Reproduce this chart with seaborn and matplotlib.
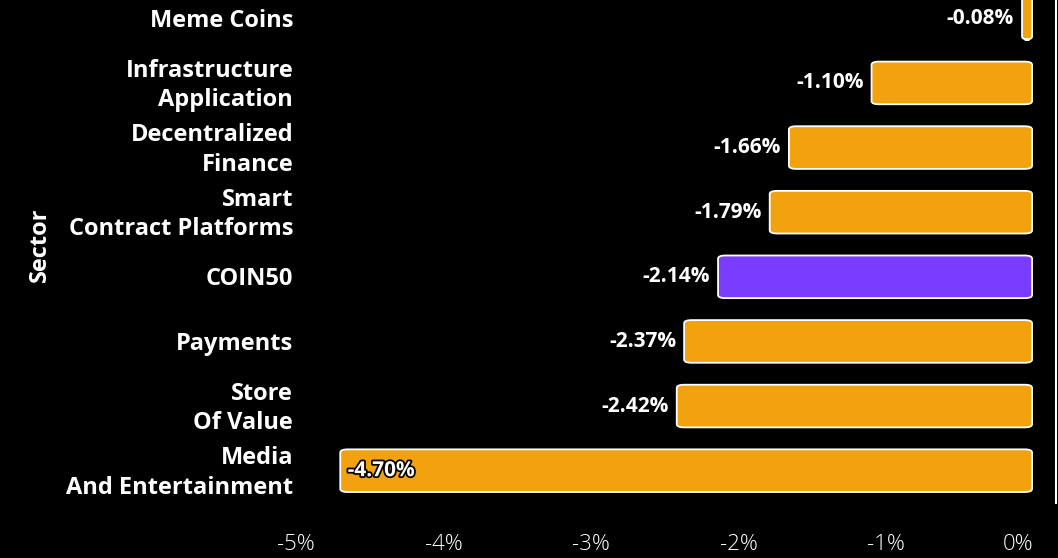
import numpy as np
import pandas as pd
import matplotlib.pyplot as plt
import matplotlib.patheffects as pe
import matplotlib.transforms as mtrans
from matplotlib.patches import FancyBboxPatch
import seaborn as sns

sectors = ['Meme Coins', 'Infrastructure\nApplication', 'Decentralized\nFinance',
           'Smart\nContract Platforms', 'COIN50', 'Payments', 'Store\nOf Value',
           'Media\nAnd Entertainment']
changes = [-0.08, -1.10, -1.66, -1.79, -2.14, -2.37, -2.42, -4.70]
highlight = 'COIN50'
x_ticks = [-5, -4, -3, -2, -1, 0]

orange = '#F2A20E'
purple = '#7A3CFF'

df = pd.DataFrame({'Sector': sectors, 'Change': changes})
palette = {s: (purple if s == highlight else orange) for s in sectors}

sns.set_theme(style='dark')
plt.rcParams['font.family'] = ['Open Sans', 'DejaVu Sans']

fig = plt.figure(figsize=(10.58, 5.58), dpi=100, facecolor='black')
ax = fig.add_axes([296 / 1058, 1 - 503 / 558, (1056 - 296) / 1058, 517 / 558])
ax.set_facecolor('black')

sns.barplot(data=df, x='Change', y='Sector', hue='Sector', palette=palette,
            order=sectors, orient='h', width=0.66, saturation=1, legend=False, ax=ax)

# swap the plain rectangles for rounded ones with a white edge
for bar in list(ax.patches):
    x, y = bar.get_x(), bar.get_y()
    w, h = bar.get_width(), bar.get_height()
    fc = bar.get_facecolor()
    bar.remove()
    left, width = min(x, x + w), abs(w)
    ax.add_patch(FancyBboxPatch((left, y), width - 0.012, h,
                                boxstyle='round,pad=0,rounding_size=0.05',
                                mutation_aspect=0.99,
                                facecolor=fc, edgecolor='white', linewidth=1.3,
                                zorder=2))

for i, v in enumerate(changes):
    txt = f'{v:.2f}%'
    if v < -4:
        ax.text(v + 0.05, i, txt, color='white', fontsize=15, fontweight='bold',
                ha='left', va='center', zorder=3,
                path_effects=[pe.withStroke(linewidth=2.5, foreground='black')])
    else:
        ax.text(v - 0.055, i, txt, color='white', fontsize=15, fontweight='bold',
                ha='right', va='center', zorder=3)

ax.set_xlim(-5, 0.15)
ax.set_ylim(7.5, -0.5)
ax.set_xticks(x_ticks)
labels = ax.set_xticklabels([f'{t}%' for t in x_ticks], color='white',
                            fontsize=16, fontweight='light')
labels[-1].set_horizontalalignment('right')
ax.tick_params(axis='x', length=0, pad=22)
ax.tick_params(axis='y', length=0, pad=2)
shift = mtrans.ScaledTranslation(0, -2.5 / 100, fig.dpi_scale_trans)
for lab in ax.get_yticklabels():
    lab.set_color('white')
    lab.set_fontsize(17)
    lab.set_fontweight('bold')
    lab.set_linespacing(1.3)
    lab.set_verticalalignment('center')
    lab.set_transform(lab.get_transform() + shift)
ax.set_xlabel('')
ax.set_ylabel('Sector', color='white', fontsize=17, fontweight='bold', labelpad=10)
ax.grid(False)
for side in ['top', 'left', 'bottom']:
    ax.spines[side].set_visible(False)
ax.spines['right'].set_visible(True)
ax.spines['right'].set_color('white')
ax.spines['right'].set_linewidth(1.5)

fig.savefig('out.png', dpi=100, facecolor='black')
